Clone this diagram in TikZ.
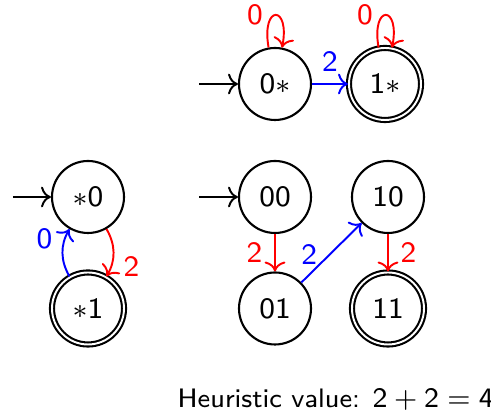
\documentclass[tikz,border=0pt]{standalone}
\usepackage{tikz}
\usetikzlibrary{arrows.meta,positioning}
\definecolor{edgered}{RGB}{255,0,0}
\definecolor{edgeblue}{RGB}{0,0,255}

\begin{document}
\begin{tikzpicture}[x=0.4cm,y=0.4cm,font=\sffamily,stnode/.style={draw,circle,line width=0.6pt,minimum size=0.72cm,inner sep=0pt,font=\sffamily\fontsize{8.4}{10}\selectfont},accnode/.style={stnode,double,double distance=0.55pt},tr/.style={->,>=To,line width=0.55pt},lbl/.style={font=\sffamily\fontsize{8.4}{10}\selectfont}]
\useasboundingbox (0,0) rectangle (12.275,10.35);

\node[stnode] (a) at (6.875,8.25) {0$\ast$};
\node[accnode] (b) at (9.625,8.25) {1$\ast$};
\node[stnode] (c) at (2.2,5.425) {$\ast$0};
\node[accnode] (d) at (2.2,2.6375) {$\ast$1};
\node[stnode] (e) at (6.875,5.425) {00};
\node[stnode] (f) at (9.7,5.425) {10};
\node[stnode] (g) at (6.875,2.6375) {01};
\node[accnode] (h) at (9.7,2.6375) {11};
\coordinate (ia) at (4.975,8.25);
\coordinate (ic) at (0.325,5.425);
\coordinate (ie) at (4.975,5.425);

\draw[tr] (ia)--(a);
\draw[tr] (ic)--(c);
\draw[tr] (ie)--(e);
\draw[tr,edgered] (a) to[out=100,in=79,distance=0.44cm] node[left,lbl] {0} (a);
\draw[tr,edgered] (b) to[out=100,in=79,distance=0.44cm] node[left,lbl] {0} (b);
\draw[tr,edgeblue] (a)--node[above,lbl] {2}(b);
\draw[tr,edgered] (c) to[bend left=30] node[right,lbl,pos=0.8] {2} (d);
\draw[tr,edgeblue] (d) to[bend left=30] node[left,lbl,pos=0.8] {0} (c);
\draw[tr,edgered] (e)--node[left,lbl] {2}(g);
\draw[tr,edgered] (f)--node[right,lbl] {2}(h);
\draw[tr,edgeblue] (g)--node[left,lbl,pos=0.47] {2}(f);

\node[anchor=base west,inner sep=0pt,font=\sffamily\fontsize{7.6}{9}\selectfont] (hv) at (4.425,0.15) {Heuristic value: $\mathsf{2}+\mathsf{2}=\mathsf{4}$};
\end{tikzpicture}
\end{document}
